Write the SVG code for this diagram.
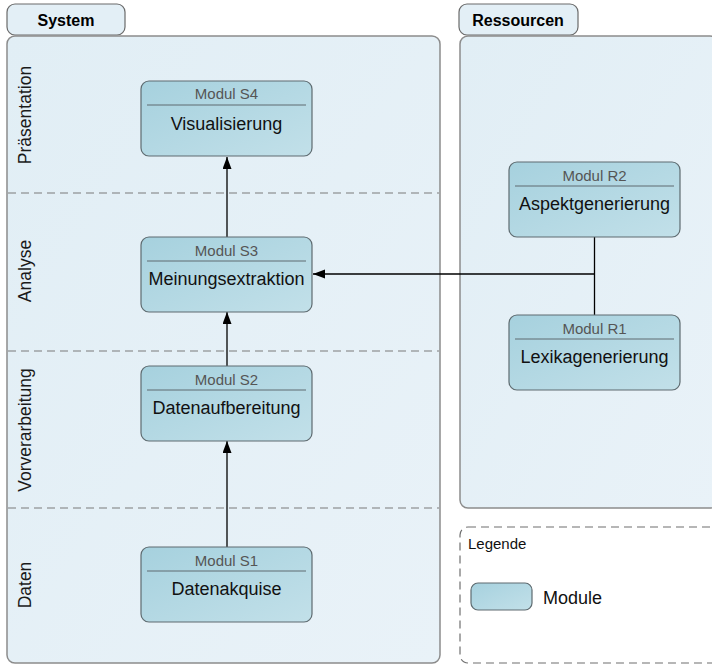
<svg xmlns="http://www.w3.org/2000/svg" width="712" height="665" viewBox="0 0 712 665">
  <defs>
    <linearGradient id="panelFill" x1="0" y1="0" x2="1" y2="1">
      <stop offset="0" stop-color="#e1eef5"/>
      <stop offset="1" stop-color="#e9f2f8"/>
    </linearGradient>
    <linearGradient id="moduleFill" x1="0" y1="0" x2="1" y2="1">
      <stop offset="0" stop-color="#a6d1de"/>
      <stop offset="1" stop-color="#c2e0e9"/>
    </linearGradient>
    <marker id="arrow" markerWidth="12" markerHeight="10" refX="12" refY="4.5" orient="auto" markerUnits="userSpaceOnUse">
      <path d="M0,0 L12,4.5 L0,9 Z" fill="#000"/>
    </marker>
  </defs>
  <style>
    text { font-family: "Liberation Sans", Arial, sans-serif; }
    .tab { fill: #e3eff6; stroke: #6a6a6a; stroke-width: 1.2; }
    .tabLabel { font-size: 16px; font-weight: bold; fill: #000; text-anchor: middle; }
    .panel { fill: url(#panelFill); stroke: #8c8c8c; stroke-width: 1.5; }
    .lane { stroke: #7a7a7a; stroke-width: 1.2; stroke-dasharray: 8 5; fill: none; }
    .laneLabel { font-size: 17.5px; fill: #1a1a1a; text-anchor: middle; }
    .module { fill: url(#moduleFill); stroke: #5e6b70; stroke-width: 1.2; }
    .sep { stroke: #5e6b70; stroke-width: 1; }
    .modHead { font-size: 15px; fill: #555; text-anchor: middle; }
    .modName { font-size: 18px; fill: #111; text-anchor: middle; }
    .edge { stroke: #000; stroke-width: 1.3; fill: none; }
    .legend { fill: none; stroke: #6f6f6f; stroke-width: 1.2; stroke-dasharray: 8 5; }
  </style>

  <!-- System container -->
  <g id="system">
    <rect class="tab" x="7" y="4" width="118" height="31" rx="8"/>
    <text class="tabLabel" x="66" y="26">System</text>
    <rect class="panel" x="7" y="36" width="433" height="627" rx="8"/>
    <line class="lane" x1="8" y1="193" x2="439" y2="193"/>
    <line class="lane" x1="8" y1="351" x2="439" y2="351"/>
    <line class="lane" x1="8" y1="508" x2="439" y2="508"/>
    <text class="laneLabel" transform="translate(31,115) rotate(-90)">Präsentation</text>
    <text class="laneLabel" transform="translate(31,271) rotate(-90)">Analyse</text>
    <text class="laneLabel" transform="translate(31,430) rotate(-90)">Vorverarbeitung</text>
    <text class="laneLabel" transform="translate(31,585) rotate(-90)">Daten</text>
  </g>

  <!-- Resources container (runs past the right edge) -->
  <g id="ressourcen">
    <rect class="tab" x="459" y="4" width="119" height="31" rx="8"/>
    <text class="tabLabel" x="518" y="26">Ressourcen</text>
    <rect class="panel" x="460" y="36" width="258" height="472" rx="8"/>
  </g>

  <!-- Legend -->
  <g id="legende">
    <rect class="legend" x="460" y="527" width="262" height="136" rx="8"/>
    <text x="468" y="549" font-size="15" fill="#111">Legende</text>
    <rect class="module" x="471" y="583" width="61" height="27" rx="7"/>
    <text x="543" y="604" font-size="18" fill="#111">Module</text>
  </g>

  <!-- Connectors -->
  <g id="connectors">
    <line class="edge" x1="227" y1="547" x2="227" y2="441" marker-end="url(#arrow)"/>
    <line class="edge" x1="227" y1="366" x2="227" y2="312" marker-end="url(#arrow)"/>
    <line class="edge" x1="227" y1="237" x2="227" y2="157" marker-end="url(#arrow)"/>
    <line class="edge" x1="594.5" y1="237" x2="594.5" y2="315"/>
    <line class="edge" x1="594.5" y1="274" x2="313" y2="274" marker-end="url(#arrow)"/>
  </g>

  <!-- Modules -->
  <g id="modul-s4">
    <rect class="module" x="141" y="81" width="171" height="75" rx="8"/>
    <text class="modHead" x="226.5" y="99">Modul S4</text>
    <line class="sep" x1="147" y1="105" x2="306" y2="105"/>
    <text class="modName" x="226.5" y="130">Visualisierung</text>
  </g>
  <g id="modul-s3">
    <rect class="module" x="141" y="237" width="171" height="75" rx="8"/>
    <text class="modHead" x="226.5" y="256">Modul S3</text>
    <line class="sep" x1="147" y1="261" x2="306" y2="261"/>
    <text class="modName" x="226.5" y="285">Meinungsextraktion</text>
  </g>
  <g id="modul-s2">
    <rect class="module" x="141" y="366" width="171" height="75" rx="8"/>
    <text class="modHead" x="226.5" y="385">Modul S2</text>
    <line class="sep" x1="147" y1="390" x2="306" y2="390"/>
    <text class="modName" x="226.5" y="414">Datenaufbereitung</text>
  </g>
  <g id="modul-s1">
    <rect class="module" x="141" y="547" width="171" height="75" rx="8"/>
    <text class="modHead" x="226.5" y="566">Modul S1</text>
    <line class="sep" x1="147" y1="571" x2="306" y2="571"/>
    <text class="modName" x="226.5" y="595">Datenakquise</text>
  </g>
  <g id="modul-r2">
    <rect class="module" x="509" y="162" width="171" height="75" rx="8"/>
    <text class="modHead" x="594.5" y="181">Modul R2</text>
    <line class="sep" x1="515" y1="186" x2="674" y2="186"/>
    <text class="modName" x="594.5" y="210">Aspektgenerierung</text>
  </g>
  <g id="modul-r1">
    <rect class="module" x="509" y="315" width="171" height="75" rx="8"/>
    <text class="modHead" x="594.5" y="334">Modul R1</text>
    <line class="sep" x1="515" y1="339" x2="674" y2="339"/>
    <text class="modName" x="594.5" y="363">Lexikagenerierung</text>
  </g>
</svg>
